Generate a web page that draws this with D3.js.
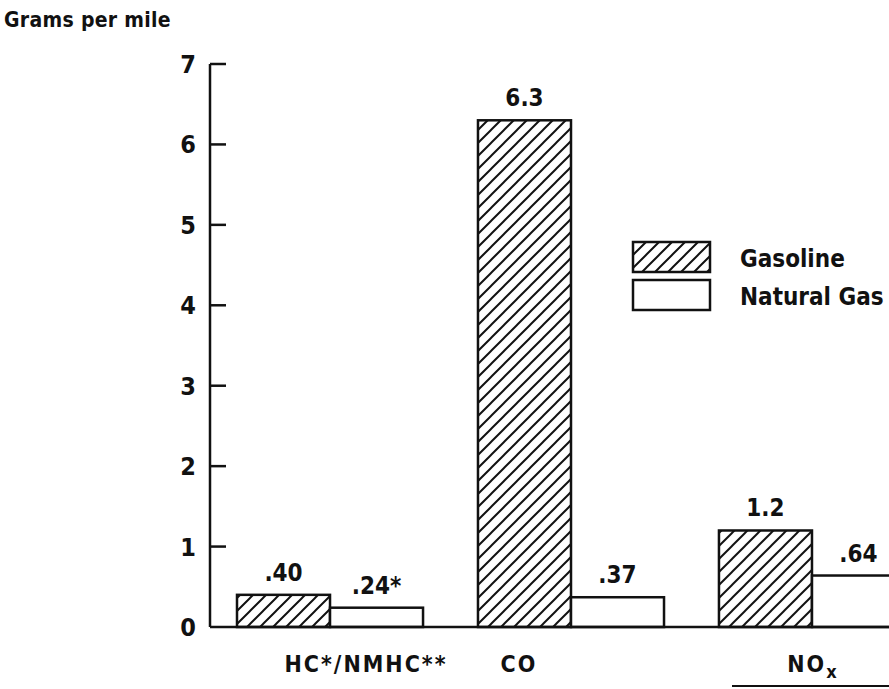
<!DOCTYPE html>
<html>
<head>
<meta charset="utf-8">
<script src="https://cdn.jsdelivr.net/npm/d3@7"></script>
<style>
  html,body{margin:0;padding:0;background:#fff;}
  svg{display:block;}
  text{font-family:"DejaVu Sans Condensed","Liberation Sans Narrow","DejaVu Sans",sans-serif;font-weight:bold;fill:#111;}
</style>
</head>
<body>
<div id="chart"></div>
<script>
// emissions, grams per mile
const categories = ['HC*/NMHC**', 'CO', 'NOx'];
const fuels = ['Gasoline', 'Natural Gas'];
const gasoline = [0.40, 6.3, 1.2];
const naturalGas = [0.24, 0.37, 0.64];
const gasolineLabels = ['.40', '6.3', '1.2'];
const naturalGasLabels = ['.24*', '.37', '.64'];
const yTicks = [0, 1, 2, 3, 4, 5, 6, 7];

const W = 889, H = 689;
const svg = d3.select('#chart').append('svg').attr('width', W).attr('height', H);

const defs = svg.append('defs');
const pat = defs.append('pattern').attr('id', 'hatch').attr('patternUnits', 'userSpaceOnUse')
  .attr('width', 13).attr('height', 13);
pat.append('path').attr('d', 'M-2,2 L2,-2 M0,13 L13,0 M11,15 L15,11')
  .attr('stroke', '#111').attr('stroke-width', 2);

const x = d3.scaleBand().domain(categories).range([237, 905]).paddingInner(0.228).paddingOuter(0);
const xs = d3.scaleBand().domain(fuels).range([0, x.bandwidth()]).padding(0);
const y = d3.scaleLinear().domain([0, 7]).range([627, 64]);

const rows = categories.map((c, i) => ({
  cat: c,
  vals: [
    {fuel: fuels[0], v: gasoline[i], label: gasolineLabels[i]},
    {fuel: fuels[1], v: naturalGas[i], label: naturalGasLabels[i]}
  ]
}));

// y axis: ticks inside, pointing right
const axisX = 210;
const gy = svg.append('g').attr('transform', `translate(${axisX},0)`);
gy.append('line').attr('x1', 0).attr('x2', 0).attr('y1', y(7)).attr('y2', y(0))
  .attr('stroke', '#111').attr('stroke-width', 2.5);
gy.selectAll('.tk').data(yTicks.filter(d => d > 0)).join('line').attr('class', 'tk')
  .attr('x1', 0).attr('x2', 16).attr('y1', d => y(d)).attr('y2', d => y(d))
  .attr('stroke', '#111').attr('stroke-width', 2.5);
gy.selectAll('.tl').data(yTicks).join('text').attr('class', 'tl')
  .attr('x', -14).attr('y', d => y(d)).attr('dy', '0.36em').attr('text-anchor', 'end')
  .attr('font-size', 25).text(d => d);

// bars
const groups = svg.append('g').selectAll('g').data(rows).join('g')
  .attr('transform', d => `translate(${x(d.cat)},0)`);
groups.selectAll('rect').data(d => d.vals).join('rect')
  .attr('x', d => xs(d.fuel)).attr('width', xs.bandwidth())
  .attr('y', d => y(d.v)).attr('height', d => y(0) - y(d.v))
  .attr('fill', d => d.fuel === 'Gasoline' ? 'url(#hatch)' : '#fff')
  .attr('stroke', '#111').attr('stroke-width', 2.5);
groups.selectAll('text').data(d => d.vals).join('text')
  .attr('x', d => xs(d.fuel) + xs.bandwidth() / 2).attr('y', d => y(d.v) - 14)
  .attr('text-anchor', 'middle').attr('font-size', 24).text(d => d.label);

// baseline
svg.append('line').attr('x1', axisX).attr('x2', W).attr('y1', y(0)).attr('y2', y(0))
  .attr('stroke', '#111').attr('stroke-width', 2.5);

// category labels (hand-set offsets from the group centre, as in the original)
const labelShift = {'HC*/NMHC**': 36, 'CO': -52, 'NOx': 1};
svg.selectAll('.cl').data(categories).join('text').attr('class', 'cl')
  .attr('x', d => x(d) + x.bandwidth() / 2 + labelShift[d]).attr('y', 672)
  .attr('text-anchor', 'middle').attr('font-size', 23).attr('letter-spacing', 2)
  .each(function(d) {
    const t = d3.select(this);
    if (d === 'NOx') {
      t.append('tspan').text('NO');
      t.append('tspan').attr('font-size', 18).attr('dy', 6).text('x');
    } else t.text(d);
  });
svg.append('line').attr('x1', 732).attr('x2', W).attr('y1', 686).attr('y2', 686)
  .attr('stroke', '#111').attr('stroke-width', 2);

// y title
svg.append('text').attr('x', 4).attr('y', 27).attr('font-size', 21).attr('letter-spacing', 0.3)
  .text('Grams per mile');

// legend
const lg = svg.append('g').attr('transform', 'translate(633,242)');
const li = lg.selectAll('g').data(fuels).join('g').attr('transform', (d, i) => `translate(0,${i * 38})`);
li.append('rect').attr('width', 77).attr('height', 30)
  .attr('fill', d => d === 'Gasoline' ? 'url(#hatch)' : '#fff')
  .attr('stroke', '#111').attr('stroke-width', 2.5);
li.append('text').attr('x', 107).attr('y', 25).attr('font-size', 24).text(d => d);
</script>
</body>
</html>
